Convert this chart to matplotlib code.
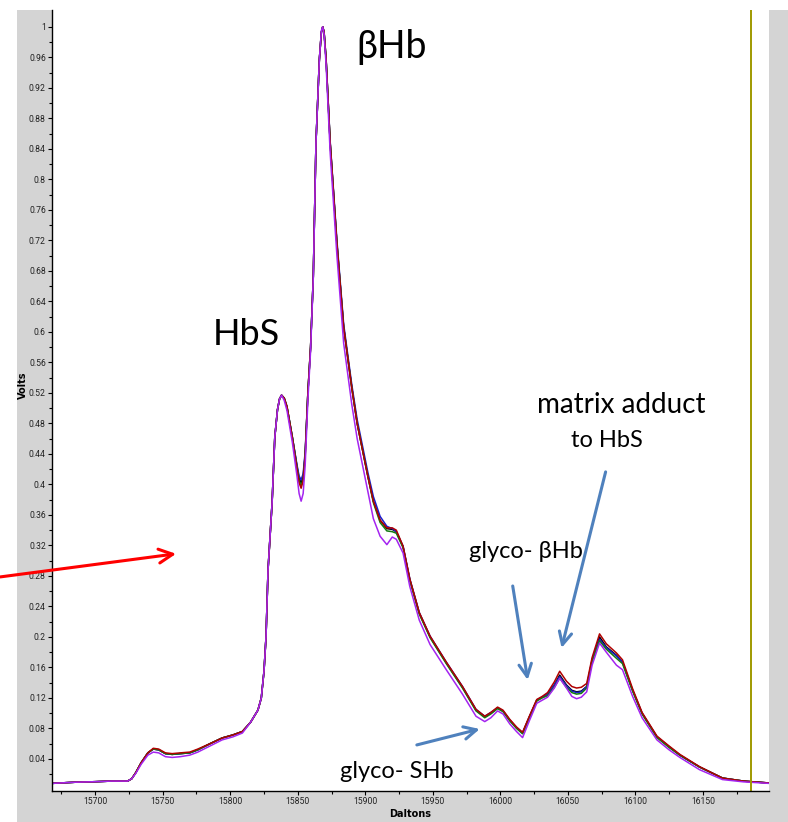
import matplotlib
matplotlib.use("Agg")
import matplotlib.pyplot as plt
from matplotlib.patches import Rectangle
from matplotlib.ticker import FixedLocator, FuncFormatter

# ---------------- data ----------------
daltons = [15668, 15685, 15700, 15712, 15724, 15727, 15730, 15734, 15739, 15743,
           15747, 15752, 15757, 15763, 15770, 15776, 15785, 15794, 15802, 15809,
           15815, 15820.5, 15823, 15825, 15826.5, 15828, 15831, 15833, 15835, 15836.5,
           15838, 15840, 15842, 15846, 15849.5, 15851, 15852.5, 15854, 15855.5, 15857.5,
           15859.5, 15861.5, 15863.5, 15866, 15867.5, 15868.5, 15869.5, 15871, 15874, 15879,
           15884, 15890, 15894, 15898, 15902, 15906, 15911, 15916, 15920, 15923,
           15928, 15933, 15940, 15948, 15960, 15972, 15982, 15988.5, 15993, 15998,
           16002, 16007, 16012, 16016.5, 16021.5, 16027, 16031, 16035, 16040, 16044,
           16049, 16053, 16056.5, 16060, 16064, 16068, 16073.5, 16078.5, 16086, 16090.5,
           16098, 16105, 16116, 16125, 16133, 16147.5, 16164.5, 16180, 16199]

volts_black = [.008, .0095, .0102, .011, .011, .014, .022, .035, .048, .053,
               .052, .047, .046, .047, .048, .052, .060, .0675, .0715, .076,
               .088, .104, .12, .155, .2, .288, .376, .462, .498, .512,
               .517, .513, .502, .462, .423, .408, .402, .410, .44, .52,
               .58, .672, .848, .957, .993, 1.0, .993, .957, .848, .716,
               .606, .527, .48, .445, .41, .378, .353, .342, .341, .338,
               .318, .275, .231, .2, .166, .134, .104, .095, .100, .107,
               .103, .091, .081, .074, .095, .117, .121, .125, .137, .150,
               .137, .130, .128, .129, .135, .17, .2, .187, .176, .167,
               .13, .1, .069, .056, .045, .0295, .015, .011, .0085]

volts_blue = [.008, .0095, .0102, .011, .011, .014, .022, .035, .048, .053,
              .052, .047, .046, .047, .048, .052, .060, .0675, .0715, .076,
              .088, .104, .12, .155, .2, .288, .376, .462, .498, .512,
              .517, .513, .502, .462, .425, .411, .406, .414, .443, .52,
              .58, .672, .848, .957, .993, 1.0, .993, .958, .850, .720,
              .610, .531, .485, .450, .415, .384, .358, .345, .342, .338,
              .319, .276, .232, .201, .167, .135, .105, .096, .101, .107,
              .103, .091, .081, .074, .095, .117, .121, .125, .137, .148,
              .136, .129, .127, .128, .135, .17, .197, .186, .175, .167,
              .13, .1, .069, .056, .045, .0295, .015, .011, .0085]

volts_green = [.008, .0095, .0102, .011, .011, .014, .022, .035, .048, .053,
               .052, .047, .046, .047, .048, .052, .060, .0675, .0715, .076,
               .088, .104, .12, .155, .2, .288, .376, .462, .498, .512,
               .517, .513, .502, .462, .422, .405, .398, .407, .438, .52,
               .58, .672, .848, .957, .993, 1.0, .993, .957, .848, .716,
               .606, .527, .48, .445, .41, .376, .350, .339, .338, .336,
               .317, .274, .230, .199, .165, .133, .103, .094, .099, .106,
               .102, .090, .080, .073, .094, .116, .120, .123, .134, .146,
               .134, .127, .125, .126, .133, .168, .195, .184, .172, .165,
               .129, .099, .068, .055, .045, .0295, .015, .011, .0085]

volts_red = [.008, .0095, .0102, .011, .011, .014, .022, .035, .048, .054,
             .053, .048, .047, .048, .049, .053, .060, .0675, .0715, .076,
             .088, .104, .12, .155, .2, .288, .376, .462, .498, .512,
             .517, .513, .502, .461, .420, .402, .395, .405, .437, .52,
             .58, .672, .848, .957, .993, 1.0, .993, .957, .848, .716,
             .606, .527, .48, .445, .41, .378, .353, .343, .343, .340,
             .319, .276, .232, .201, .167, .135, .105, .096, .101, .108,
             .104, .092, .082, .075, .096, .118, .122, .127, .141, .155,
             .142, .135, .133, .134, .139, .173, .204, .191, .179, .170,
             .132, .101, .070, .057, .046, .030, .015, .011, .0085]

volts_purple = [.008, .0095, .0102, .011, .011, .014, .021, .033, .045, .049,
                .048, .043, .042, .043, .045, .049, .057, .065, .069, .074,
                .088, .104, .12, .155, .2, .288, .376, .462, .498, .512,
                .517, .510, .497, .455, .410, .388, .378, .388, .425, .51,
                .575, .67, .848, .957, .995, 1.0, .99, .95, .835, .70,
                .585, .505, .46, .425, .39, .355, .332, .321, .331, .328,
                .31, .266, .222, .19, .157, .125, .096, .089, .094, .103,
                .099, .086, .076, .068, .09, .113, .117, .121, .133, .146,
                .133, .122, .119, .121, .128, .163, .192, .18, .163, .157,
                .122, .094, .065, .052, .042, .026, .013, .010, .008]

series = [("black", volts_black), ("#1a1acc", volts_blue), ("#127a12", volts_green),
          ("#b00000", volts_red), ("#a424f0", volts_purple)]

y_major = [0.04, 0.08, 0.12, 0.16, 0.2, 0.24, 0.28, 0.32, 0.36, 0.4, 0.44, 0.48, 0.52,
           0.56, 0.6, 0.64, 0.68, 0.72, 0.76, 0.8, 0.84, 0.88, 0.92, 0.96, 1.0]
y_minor = [0.02, 0.06, 0.1, 0.14, 0.18, 0.22, 0.26, 0.3, 0.34, 0.38, 0.42, 0.46, 0.5,
           0.54, 0.58, 0.62, 0.66, 0.7, 0.74, 0.78, 0.82, 0.86, 0.9, 0.94, 0.98]
x_major = [15700, 15750, 15800, 15850, 15900, 15950, 16000, 16050, 16100, 16150]
x_minor = [15675, 15725, 15775, 15825, 15875, 15925, 15975, 16025, 16075, 16125, 16175]

marker_line = 16186

# ---------------- figure ----------------
W, H = 788, 822
fig = plt.figure(figsize=(W / 100, H / 100), dpi=100)
fig.patch.set_facecolor("white")
fig.patches.append(Rectangle((17 / W, 0), 1 - 17 / W, (H - 10) / H,
                             transform=fig.transFigure, facecolor="#d4d4d4",
                             edgecolor="none", zorder=-10))

ax = fig.add_axes([52 / W, (H - 791) / H, (769 - 52) / W, (791 - 10) / H])
ax.set_zorder(5)
ax.set_facecolor("white")
ax.set_xlim(15668, 16199)
ax.set_ylim(-0.002, 1.022)

for color, vals in series:
    ax.plot(daltons, vals, color=color, lw=1.1, solid_joinstyle="round")

ax.axvline(marker_line, color="#a09a00", lw=1.4)

for s in ["top", "right"]:
    ax.spines[s].set_visible(False)
for s in ["left", "bottom"]:
    ax.spines[s].set_linewidth(1.0)

ax.yaxis.set_major_locator(FixedLocator(y_major))
ax.yaxis.set_minor_locator(FixedLocator(y_minor))
ax.xaxis.set_major_locator(FixedLocator(x_major))
ax.xaxis.set_minor_locator(FixedLocator(x_minor))
ax.yaxis.set_major_formatter(FuncFormatter(lambda v, p: f"{v:g}"))
ax.xaxis.set_major_formatter(FuncFormatter(lambda v, p: f"{v:g}"))
ax.tick_params(which="major", length=3, width=0.8, labelsize=6.2, pad=1.5)
ax.tick_params(which="minor", length=2.5, width=0.8)
for lab in ax.get_xticklabels() + ax.get_yticklabels():
    lab.set_family(["Roboto", "DejaVu Sans"])
    lab.set_color("#222222")

ax.set_ylabel("Volts", fontsize=7, fontweight="bold")
ax.set_xlabel("Daltons", fontsize=7, fontweight="bold")
ax.yaxis.set_label_coords(-0.034, 0.52)
ax.xaxis.set_label_coords(0.4993, -0.0235)

big = ["Lato", "DejaVu Sans"]
ax.text(15919.7, 0.974, "βHb", fontsize=27, ha="center", va="center", family=big)
ax.text(15811.7, 0.596, "HbS", fontsize=26, ha="center", va="center", family=big)
ax.text(16089.8, 0.504, "matrix adduct", fontsize=20, ha="center", va="center", family=big)
ax.text(16078.7, 0.458, "to HbS", fontsize=17, ha="center", va="center", family=big)
ax.text(16018.8, 0.3115, "glyco- βHb", fontsize=17, ha="center", va="center", family=big)
ax.text(15923.4, 0.023, "glyco- SHb", fontsize=17, ha="center", va="center", family=big)

blue = "#4f81bd"
arrows = [((16078.0, 0.4164), (16045.4, 0.1856)),
          ((16009.2, 0.2668), (16020.3, 0.1436)),
          ((15938.2, 0.0584), (15984.8, 0.0793))]
for start, tip in arrows:
    ax.annotate("", xy=tip, xytext=start,
                arrowprops=dict(arrowstyle="->,head_length=0.9,head_width=0.45",
                                color=blue, lw=2.2, shrinkA=0, shrinkB=0))

ax.annotate("", xy=(15759.9, 0.309), xytext=(15629.7, 0.2787),
            arrowprops=dict(arrowstyle="->,head_length=1.0,head_width=0.5",
                            color="#ff0000", lw=2.2, shrinkA=0, shrinkB=0),
            annotation_clip=False)

fig.savefig("out.png", dpi=100, facecolor=fig.get_facecolor())
